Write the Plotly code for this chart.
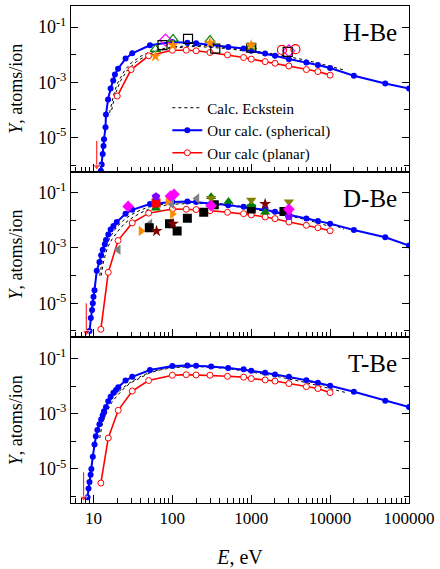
import plotly.graph_objects as go
from plotly.subplots import make_subplots

# ---------------- data ----------------
panel_labels = ["H-Be", "D-Be", "T-Be"]

# H-Be
HBe_sph_E = [12.4, 12.7, 13.1, 13.4, 13.6, 14.2, 14.4, 15.3, 16.5, 17.8, 18.7, 20.5, 25.5, 31, 52, 100, 155, 200,
             310, 510, 800, 1000, 1500, 2000, 3000, 5000, 7000, 10000, 20000, 50000, 100000]
HBe_sph_Y = [6.3e-7, 1.07e-6, 2.57e-6, 5.0e-6, 8.7e-6, 2.4e-5, 6.8e-5, 2.4e-4, 6.0e-4, 1.17e-3, 1.9e-3, 3.1e-3,
             7.2e-3, 1.12e-2, 2.19e-2, 2.88e-2, 2.69e-2, 2.57e-2, 2.24e-2, 1.91e-2, 1.66e-2, 1.38e-2, 1.10e-2,
             9.1e-3, 6.9e-3, 5.2e-3, 4.2e-3, 3.3e-3, 1.74e-3, 9.1e-4, 6.0e-4]
HBe_pl_E = [20, 30, 50, 100, 150, 200, 300, 500, 800, 1000, 1500, 2000, 3000, 5000, 7000, 10000]
HBe_pl_Y = [3.2e-4, 2.9e-3, 9.1e-3, 1.45e-2, 1.45e-2, 1.38e-2, 1.20e-2, 9.8e-3, 7.9e-3, 6.9e-3, 5.6e-3, 4.9e-3,
            3.9e-3, 2.9e-3, 2.45e-3, 1.82e-3]
HBe_eck1_E = [16, 18, 20, 25, 30, 40, 50, 70, 100, 200, 300, 500, 1000, 2000, 5000, 10000, 15000]
HBe_eck1_Y = [7.9e-5, 3.5e-4, 8.9e-4, 2.8e-3, 5.0e-3, 8.9e-3, 1.2e-2, 1.58e-2, 1.9e-2, 2.2e-2, 2.1e-2, 1.82e-2,
              1.41e-2, 1.05e-2, 6.3e-3, 3.8e-3, 2.8e-3]
HBe_eck2_E = [17, 19, 22, 27, 35, 50, 70, 100, 200, 500, 1000, 2000, 5000, 10000]
HBe_eck2_Y = [1.0e-4, 4.0e-4, 1.12e-3, 2.8e-3, 5.6e-3, 1.05e-2, 1.45e-2, 1.74e-2, 2.0e-2, 1.66e-2, 1.26e-2,
              9.3e-3, 5.4e-3, 3.3e-3]

# D-Be
DBe_sph_E = [8.9, 9.25, 9.6, 9.8, 10, 10.3, 11, 11.9, 12.5, 13.1, 13.9, 14.4, 15.4, 16.5, 17.9, 19.7, 25.5, 31, 52,
             100, 155, 200, 310, 510, 800, 1000, 1500, 2000, 3000, 5000, 7000, 10000, 20000, 50000, 100000]
DBe_sph_Y = [1.0e-6, 2.95e-6, 5.75e-6, 1.0e-5, 1.74e-5, 2.95e-5, 1.51e-4, 3.1e-4, 5.5e-4, 8.7e-4, 1.38e-3,
             1.95e-3, 3.1e-3, 4.7e-3, 6.3e-3, 8.7e-3, 1.74e-2, 2.4e-2, 3.9e-2, 4.6e-2, 4.8e-2, 4.6e-2, 4.1e-2,
             3.55e-2, 3.1e-2, 2.75e-2, 2.4e-2, 2.04e-2, 1.62e-2, 1.17e-2, 9.5e-3, 7.6e-3, 4.5e-3, 2.45e-3, 1.23e-3]
DBe_pl_E = [12.4, 15.4, 20.5, 31, 50, 100, 150, 200, 300, 500, 800, 1000, 1500, 2000, 3000, 5000, 7000, 10000]
DBe_pl_Y = [1.15e-6, 1.32e-4, 1.86e-3, 8.1e-3, 1.82e-2, 2.57e-2, 2.51e-2, 2.45e-2, 2.24e-2, 1.95e-2, 1.74e-2,
            1.58e-2, 1.32e-2, 1.15e-2, 8.7e-3, 6.6e-3, 5.4e-3, 4.2e-3]
DBe_eck1_E = [12, 13, 14, 16, 18, 20, 25, 30, 40, 50, 70, 100, 200, 300, 500, 1000, 2000, 5000, 10000, 15000]
DBe_eck1_Y = [1.0e-4, 4.0e-4, 8.9e-4, 2.24e-3, 4.0e-3, 6.0e-3, 1.12e-2, 1.58e-2, 2.4e-2, 3.0e-2, 3.7e-2, 4.2e-2,
              4.5e-2, 4.3e-2, 3.8e-2, 2.9e-2, 2.1e-2, 1.2e-2, 7.6e-3, 4.8e-3]
DBe_eck2_E = [12.5, 13.5, 15, 17, 20, 25, 30, 40, 50, 70, 100, 200, 500, 1000, 2000, 5000, 10000]
DBe_eck2_Y = [1.0e-4, 3.5e-4, 1.0e-3, 2.0e-3, 3.8e-3, 7.9e-3, 1.17e-2, 1.9e-2, 2.5e-2, 3.3e-2, 3.8e-2, 4.2e-2,
              3.5e-2, 2.6e-2, 1.9e-2, 1.05e-2, 6.0e-3]

# T-Be
TBe_sph_E = [8.4, 8.65, 8.9, 9.2, 9.4, 9.8, 10.3, 10.7, 11.2, 11.9, 12.5, 13.1, 13.6, 14.4, 15.4, 16.5, 17.9, 19.3,
             20.6, 25.5, 31, 52, 100, 155, 200, 310, 510, 800, 1000, 1500, 2000, 3000, 5000, 7000, 10000, 20000,
             50000, 100000]
TBe_sph_Y = [9.5e-7, 1.95e-6, 3.4e-6, 6.2e-6, 1.0e-5, 2.75e-5, 7.6e-5, 1.51e-4, 2.57e-4, 4.1e-4, 6.2e-4, 8.7e-4,
             1.23e-3, 1.74e-3, 2.8e-3, 4.1e-3, 5.75e-3, 7.1e-3, 9.1e-3, 1.58e-2, 2.14e-2, 3.8e-2, 5.25e-2, 5.5e-2,
             5.4e-2, 5.1e-2, 4.5e-2, 4.0e-2, 3.55e-2, 3.0e-2, 2.63e-2, 2.14e-2, 1.62e-2, 1.32e-2, 1.02e-2, 6.2e-3,
             2.95e-3, 1.74e-3]
TBe_pl_E = [12.4, 15.4, 20.6, 31, 50, 100, 150, 200, 300, 500, 800, 1000, 1500, 2000, 3000, 5000, 7000, 10000]
TBe_pl_Y = [3.1e-6, 1.32e-4, 1.32e-3, 6.6e-3, 1.58e-2, 2.45e-2, 2.57e-2, 2.51e-2, 2.45e-2, 2.24e-2, 2.09e-2,
            1.86e-2, 1.66e-2, 1.51e-2, 1.23e-2, 9.5e-3, 8.1e-3, 5.75e-3]
TBe_eck1_E = [10.2, 11, 12, 14, 16, 20, 24, 30, 40, 50, 70, 100, 200, 300, 500, 1000, 2000, 5000, 10000]
TBe_eck1_Y = [7.9e-5, 2.5e-4, 6.3e-4, 1.58e-3, 2.8e-3, 5.6e-3, 8.9e-3, 1.41e-2, 2.24e-2, 3.0e-2, 4.0e-2, 4.8e-2,
              5.4e-2, 5.2e-2, 4.7e-2, 3.55e-2, 2.6e-2, 1.51e-2, 9.5e-3]
TBe_eck2_E = [12, 13, 15, 17, 20, 25, 30, 40, 52, 70, 100, 200, 500, 1000, 2000, 5000, 10000, 16000]
TBe_eck2_Y = [1.32e-4, 4.5e-4, 1.26e-3, 2.5e-3, 4.5e-3, 8.9e-3, 1.32e-2, 2.1e-2, 3.0e-2, 3.8e-2, 4.6e-2, 5.1e-2,
              4.3e-2, 3.2e-2, 2.3e-2, 1.32e-2, 8.3e-3, 5.75e-3]

# threshold arrows (energy, arrow top, arrow tip)
arrow_E = [11.0, 8.1, 7.5]
arrow_top_Y = [7.6e-6, 1.0e-5, 7.6e-6]
arrow_tip_Y = [9.0e-7, 9.0e-7, 9.0e-7]

# experimental data H-Be (open symbols)
HBe_exp = [
    dict(E=[82, 3000], Y=[3.4e-2, 1.38e-2], symbol="diamond-open", color="#FF00FF"),
    dict(E=[61, 102, 300, 1000], Y=[1.58e-2, 3.7e-2, 3.4e-2, 1.95e-2], symbol="triangle-up-open", color="#008000"),
    dict(E=[75, 158, 350, 1000, 2900], Y=[2.2e-2, 3.7e-2, 1.66e-2, 1.78e-2, 1.26e-2], symbol="square-open", color="#000000"),
    dict(E=[61, 102, 300, 1000], Y=[8.7e-3, 2.2e-2, 2.7e-2, 2.2e-2], symbol="star", color="#FF8C00"),
    dict(E=[2450, 3630], Y=[1.48e-2, 1.58e-2], symbol="circle-open", color="#FF0000"),
]
# experimental data D-Be (filled symbols)
DBe_exp = [
    dict(E=[20.6, 52, 98, 205], Y=[8.7e-4, 7.6e-3, 3.9e-2, 6.2e-2], symbol="triangle-left", color="#808080"),
    dict(E=[40, 88, 100], Y=[4.1e-3, 5.1e-2, 1.7e-2], symbol="triangle-right", color="#FF8C00"),
    dict(E=[51, 92, 115, 155, 250, 340, 1000, 2600], Y=[5.4e-3, 7.6e-3, 4.1e-3, 1.2e-2, 1.95e-2, 3.7e-2, 2.57e-2, 2.1e-2],
         symbol="square", color="#000000"),
    dict(E=[63, 102, 1500], Y=[4.1e-3, 7.6e-3, 3.9e-2], symbol="star", color="#800000"),
    dict(E=[62, 310, 515, 1000, 1500], Y=[2.75e-2, 7.1e-2, 4.8e-2, 3.7e-2, 1.95e-2], symbol="triangle-up", color="#008000"),
    dict(E=[310, 1000, 3000], Y=[6.3e-2, 5.4e-2, 4.7e-2], symbol="triangle-down", color="#808000"),
    dict(E=[62], Y=[4.2e-2], symbol="square", color="#FF0000"),
    dict(E=[62, 3000], Y=[7.2e-2, 1.4e-2], symbol="pentagon", color="#8000FF"),
    dict(E=[27.5, 95, 105, 310, 3000], Y=[3.2e-2, 7.6e-2, 8.7e-2, 3.4e-2, 2.5e-2], symbol="diamond", color="#FF00FF"),
]

panels = [
    dict(sph=(HBe_sph_E, HBe_sph_Y), pl=(HBe_pl_E, HBe_pl_Y), eck=[(HBe_eck1_E, HBe_eck1_Y), (HBe_eck2_E, HBe_eck2_Y)], exp=HBe_exp),
    dict(sph=(DBe_sph_E, DBe_sph_Y), pl=(DBe_pl_E, DBe_pl_Y), eck=[(DBe_eck1_E, DBe_eck1_Y), (DBe_eck2_E, DBe_eck2_Y)], exp=DBe_exp),
    dict(sph=(TBe_sph_E, TBe_sph_Y), pl=(TBe_pl_E, TBe_pl_Y), eck=[(TBe_eck1_E, TBe_eck1_Y), (TBe_eck2_E, TBe_eck2_Y)], exp=[]),
]

x_ticks = [10, 100, 1000, 10000, 100000]
x_ticktext = ["10", "100", "1000", "10000", "100000"]
y_major = [1e-1, 1e-3, 1e-5]
y_major_text = ["10<sup>-1</sup>", "10<sup>-3</sup>", "10<sup>-5</sup>"]
y_minor = [1e-2, 1e-4, 1e-6]

FONT = "Liberation Serif"
BLUE = "#0000FF"
RED = "#FF0000"

fig = make_subplots(rows=3, cols=1, shared_xaxes=True, vertical_spacing=0)

for i, p in enumerate(panels):
    r = i + 1
    first = (i == 0)
    for k, (ex, ey) in enumerate(p["eck"]):
        fig.add_trace(go.Scatter(x=ex, y=ey, mode="lines", line=dict(color="black", width=1, dash="dot"),
                                 name="Calc. Eckstein", showlegend=first and k == 0, legendrank=1), row=r, col=1)
    fig.add_trace(go.Scatter(x=p["sph"][0], y=p["sph"][1], mode="lines+markers",
                             line=dict(color=BLUE, width=2),
                             marker=dict(symbol="circle", size=6, color=BLUE),
                             name="Our calc. (spherical)", showlegend=first, legendrank=2), row=r, col=1)
    fig.add_trace(go.Scatter(x=p["pl"][0], y=p["pl"][1], mode="lines+markers",
                             line=dict(color=RED, width=1.6),
                             marker=dict(symbol="circle", size=6, color="white", line=dict(color=RED, width=1)),
                             name="Our calc (planar)", showlegend=first, legendrank=3), row=r, col=1)
    for d in p["exp"]:
        is_open = d["symbol"].endswith("open")
        mk = dict(symbol=d["symbol"], size=9, color=d["color"])
        if is_open:
            mk["line"] = dict(color=d["color"], width=1.2)
        else:
            mk["line"] = dict(width=0)
        fig.add_trace(go.Scatter(x=d["E"], y=d["Y"], mode="markers", marker=mk, showlegend=False), row=r, col=1)
    # threshold arrow
    fig.add_trace(go.Scatter(x=[arrow_E[i], arrow_E[i]], y=[arrow_top_Y[i], arrow_tip_Y[i]], mode="lines+markers",
                             line=dict(color=RED, width=1),
                             marker=dict(symbol=["circle", "triangle-down"], size=[0, 7], color=RED),
                             showlegend=False), row=r, col=1)
    fig.add_annotation(text=panel_labels[i], xref="x domain" if r == 1 else f"x{r} domain",
                       yref="y domain" if r == 1 else f"y{r} domain",
                       x=0.97, y=0.84, xanchor="right", yanchor="middle", showarrow=False,
                       font=dict(family=FONT, size=25, color="black"))

minor_x = [m * 10 ** d for d in range(0, 5) for m in range(2, 10)]
for r in range(1, 4):
    fig.update_xaxes(type="log", range=[0.715, 5.0], tickvals=x_ticks, ticktext=x_ticktext,
                     ticks="inside", ticklen=8, tickwidth=1, tickcolor="black",
                     minor=dict(tickvals=minor_x, ticks="inside", ticklen=5, tickwidth=1, tickcolor="black", showgrid=False),
                     showline=True, linecolor="black", linewidth=1, mirror=True,
                     showgrid=False, zeroline=False, showticklabels=(r == 3),
                     tickfont=dict(family=FONT, size=17, color="black"), row=r, col=1)
    fig.update_yaxes(type="log", range=[-6.23, -0.24], tickvals=y_major, ticktext=y_major_text,
                     ticks="inside", ticklen=7, tickwidth=1, tickcolor="black",
                     minor=dict(tickvals=y_minor, ticks="inside", ticklen=5, tickwidth=1, tickcolor="black", showgrid=False),
                     showline=True, linecolor="black", linewidth=1, mirror="ticks",
                     showgrid=False, zeroline=False,
                     tickfont=dict(family=FONT, size=18, color="black"),
                     title_text="<i>Y</i>, atoms/ion",
                     title_font=dict(family=FONT, size=18, color="black"),
                     title_standoff=10,
                     row=r, col=1)

fig.update_xaxes(title_text="<i>E</i>, eV", title_font=dict(family=FONT, size=20, color="black"),
                 title_standoff=22, row=3, col=1)

fig.update_layout(
    width=440, height=569,
    margin=dict(l=71, r=29, t=5, b=56),
    paper_bgcolor="white", plot_bgcolor="white",
    font=dict(family=FONT, color="black"),
    legend=dict(x=0.285, y=0.828, xanchor="left", yanchor="top", bgcolor="rgba(0,0,0,0)",
                font=dict(family=FONT, size=15, color="black"), tracegroupgap=0, itemwidth=30),
    showlegend=True,
)

fig.write_html("out.html", config={"displayModeBar": False},
               post_script="document.body.style.margin='0px';")
